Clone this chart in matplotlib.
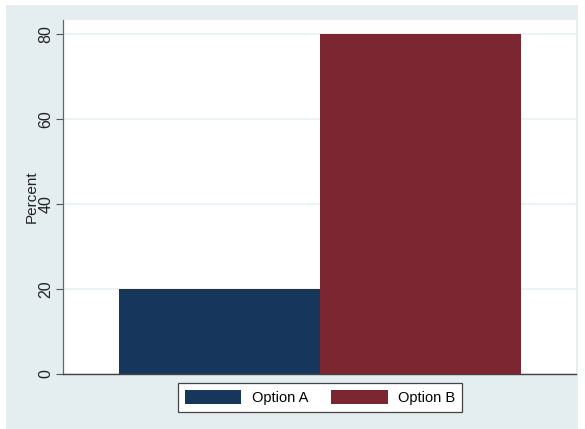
import matplotlib.pyplot as plt
from matplotlib.patches import Patch

plt.rcParams['font.family'] = ['Liberation Sans', 'DejaVu Sans']

# data
options = ['Option A', 'Option B']
percent = [20, 80]
colors = ['#16365c', '#7b2630']
yticks = [0, 20, 40, 60, 80]

fig = plt.figure(figsize=(5.85, 4.29), dpi=100)
fig.patch.set_facecolor('white')

# stata-like outer gray panel
bg = plt.Rectangle((6 / 585, 0), (578 - 6) / 585, (429 - 5) / 429,
                   transform=fig.transFigure, facecolor='#e4edf0',
                   edgecolor='none', zorder=-10)
fig.patches.append(bg)

ax = fig.add_axes([63 / 585, 1 - 374 / 429, (576 - 63) / 585, (374 - 20) / 429])
ax.set_facecolor('white')

for i, (lab, val) in enumerate(zip(options, percent)):
    ax.bar(i, val, width=1.0, color=colors[i], edgecolor='none', zorder=2)

ax.set_xlim(-0.779, 1.776)
ax.set_ylim(0, 83.3)
ax.set_yticks(yticks)
ax.set_yticklabels([str(t) for t in yticks], rotation=90, va='center',
                   fontsize=11.5, color='#222222')
ax.yaxis.grid(True, color='#e8f1f2', linewidth=1.2, zorder=0)
ax.set_axisbelow(True)
ax.set_xticks([])
ax.tick_params(axis='y', length=5, width=0.8, color='#555555', pad=2)

for s in ['top', 'right']:
    ax.spines[s].set_visible(False)
ax.spines['left'].set_color('#666666')
ax.spines['left'].set_linewidth(0.9)
ax.spines['bottom'].set_color('#444444')
ax.spines['bottom'].set_linewidth(1.0)

ax.set_ylabel('Percent', fontsize=11, labelpad=0, color='#222222')

handles = [Patch(facecolor=c, edgecolor='none') for c in colors]
leg = fig.legend(handles, options, loc='center',
                 bbox_to_anchor=(320 / 585, 1 - 397.5 / 429),
                 ncol=2, frameon=True, fancybox=False, fontsize=10.5,
                 handlelength=3.9, handleheight=1.1, columnspacing=1.6,
                 borderpad=0.45, handletextpad=0.7)
leg.get_frame().set_edgecolor('#444444')
leg.get_frame().set_linewidth(0.9)
leg.get_frame().set_facecolor('white')
leg.get_frame().set_alpha(1)

fig.savefig('out.png', dpi=100, facecolor=fig.get_facecolor())
